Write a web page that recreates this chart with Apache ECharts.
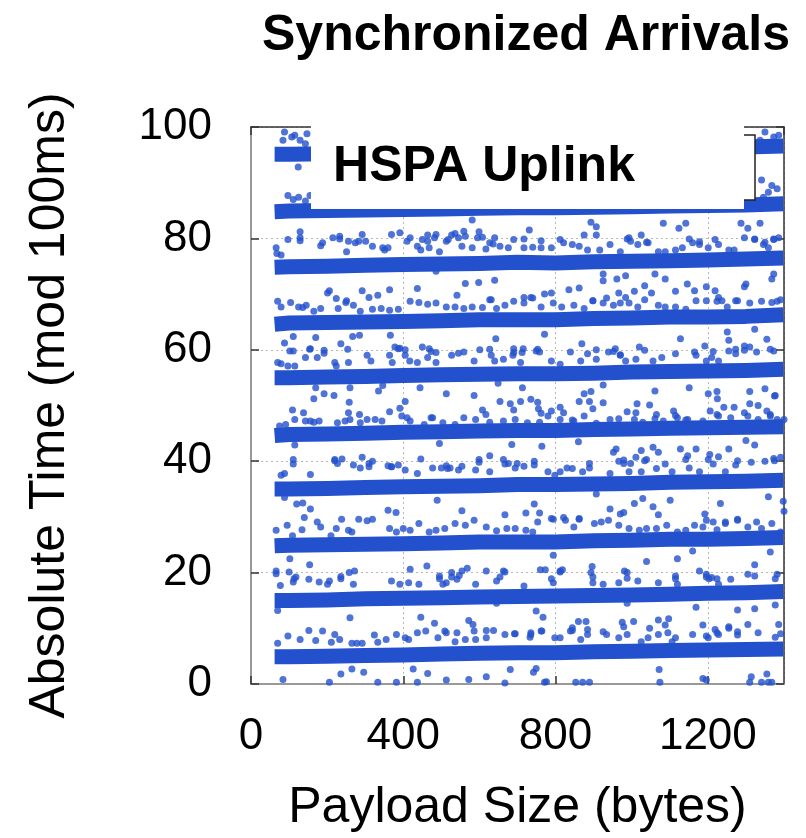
<!DOCTYPE html>
<html>
<head>
<meta charset="utf-8">
<script src="https://cdn.jsdelivr.net/npm/echarts@6/dist/echarts.min.js"></script>
<style>
  html, body { margin: 0; padding: 0; background: #fff; }
  #chart { width: 806px; height: 838px; }
</style>
</head>
<body>
<div id="chart"></div>
<script>
// x ticks / y ticks
var xTicks = [0, 400, 800, 1200];
var yTicks = [0, 20, 40, 60, 80, 100];

// centre of each dense band, read at these payload sizes
var coreX = [62, 100, 200, 300, 400, 500, 600, 700, 800, 900, 1000, 1100, 1200, 1300, 1398];
var band05 = [4.9, 4.9, 5.0, 5.1, 5.2, 5.4, 5.5, 5.6, 5.6, 5.8, 5.9, 6.0, 6.1, 6.2, 6.3];
var band15 = [15.0, 15.0, 15.1, 15.3, 15.4, 15.5, 15.6, 15.7, 15.8, 15.9, 16.0, 16.1, 16.3, 16.4, 16.6];
var band25 = [24.8, 24.9, 25.0, 25.1, 25.2, 25.3, 25.5, 25.5, 25.5, 25.7, 25.8, 26.0, 26.0, 26.1, 26.3];
var band35 = [35.0, 35.0, 35.1, 35.3, 35.4, 35.5, 35.6, 35.8, 35.8, 35.9, 36.0, 36.2, 36.3, 36.4, 36.6];
var band45 = [44.6, 44.8, 44.9, 45.0, 45.2, 45.3, 45.4, 45.5, 45.5, 45.7, 45.8, 45.9, 46.0, 46.1, 46.2];
var band55 = [55.0, 55.0, 55.1, 55.2, 55.4, 55.5, 55.6, 55.7, 55.7, 55.8, 56.0, 56.1, 56.2, 56.3, 56.5];
var band65 = [64.6, 64.8, 64.9, 65.0, 65.1, 65.2, 65.4, 65.4, 65.4, 65.6, 65.7, 65.9, 65.9, 66.0, 66.3];
var band75 = [74.8, 74.9, 75.0, 75.2, 75.3, 75.4, 75.5, 75.7, 75.6, 75.8, 75.9, 76.0, 76.1, 76.3, 76.5];
var band85 = [84.8, 84.9, 85.0, 85.1, 85.2, 85.3, 85.4, 85.5, 85.5, 85.6, 85.7, 85.8, 85.9, 86.0, 86.2];
var band95 = [95.1, 95.1, 95.2, 95.3, 95.4, 95.5, 95.6, 95.7, 95.8, 95.9, 96.0, 96.1, 96.3, 96.4, 96.6];

// scattered arrivals off the bands, [payload, time]
var stray0to20 = [
  [66,20.3],[77,17.7],[111,18.3],[113,18.9],[152,18.8],[179,18.3],[201,17.9],[206,18.5],[236,19.3],[269,17.9],
  [369,18.5],[391,17.9],[414,18.2],[441,17.9],[495,19.4],[504,17.9],[513,18.2],[527,20.0],[541,18.8],[554,20.3],
  [590,17.9],[645,18.5],[663,20.3],[717,17.6],[789,18.9],[794,18.2],[812,20.3],[893,20.0],[898,18.2],[925,17.9],
  [966,18.2],[988,20.0],[1016,18.5],[1070,18.2],[1115,19.4],[1120,17.9],[1178,20.3],[1196,19.7],[1210,19.1],[1228,17.9],
  [1260,18.8],[1305,19.7],[1323,19.4],[1382,19.7],
  [70,13.2],[645,14.5],[988,14.5],[1169,13.8],[1278,13.3],[1377,14.2],[260,11.9],[446,12.0],[482,10.9],[572,11.4],
  [583,10.7],[586,9.5],[618,9.6],[637,9.6],[692,9.0],[735,9.2],[733,8.4],[749,13.1],[767,12.0],[764,9.5],
  [839,9.5],[844,10.1],[860,11.2],[880,11.2],[884,9.8],[925,9.4],[975,11.1],[979,10.3],[1005,11.2],[1047,10.0],
  [1070,11.5],[1088,10.6],[1097,11.7],[1095,9.2],[1187,10.6],[1196,8.6],[1219,9.8],[1228,8.9],[1255,10.3],[1278,9.4],
  [1323,13.5],[1386,10.7],
  [70,7.3],[97,8.6],[129,8.0],[152,9.6],[170,7.8],[188,9.5],[211,7.5],[220,8.9],[233,8.0],[265,7.3],
  [278,7.3],[292,7.3],[324,8.8],[333,7.5],[355,8.0],[382,8.9],[405,8.3],[414,8.0],[437,9.2],[459,9.5],
  [491,8.3],[509,9.5],[513,9.2],[536,7.6],[541,9.2],[563,8.0],[590,8.0],[618,8.3],[667,8.9],[694,9.0],
  [735,8.9],[762,9.5],[798,8.3],[812,8.3],[844,9.6],[866,8.0],[884,8.9],[934,8.9],[966,8.3],[988,8.9],
  [1025,7.6],[1043,8.3],[1070,8.9],[1106,7.6],[1115,8.3],[1160,8.9],[1201,8.3],[1224,9.2],[1255,10.0],[1278,8.8],
  [1305,10.7],[1332,9.2],[1377,8.4],[1391,9.0],
  [84,0.8],[206,0.3],[236,1.8],[265,2.7],[296,2.1],[333,0.3],[382,0.3],[426,2.7],[437,0.3],[464,1.9],
  [513,0.7],[572,0.8],[618,1.3],[667,0.2],[681,2.6],[742,2.1],[749,2.8],[771,0.3],[776,0.4],[853,0.3],
  [871,0.3],[889,0.3],[1074,0.3],[1072,2.6],[1187,1.0],[1196,0.7],[1314,1.3],[1310,0.3],[1341,0.3],[1355,1.8],
  [1359,0.3],[1368,0.3]
];
var stray20to40 = [
  [111,40.3],[220,40.3],[227,39.6],[269,39.3],[287,38.8],[310,39.6],[319,40.0],[360,39.2],[369,39.0],[387,39.3],
  [405,38.4],[437,37.8],[477,38.8],[513,39.2],[545,38.4],[590,38.4],[599,40.3],[627,38.1],[663,40.3],[676,39.6],
  [699,39.6],[744,40.0],[780,38.1],[798,37.5],[812,38.1],[844,38.7],[871,38.1],[889,39.6],[943,37.8],[966,40.0],
  [979,39.6],[993,38.1],[1025,38.1],[1039,40.3],[1065,38.7],[1106,38.1],[1142,40.3],[1178,38.1],[1201,40.3],[1214,39.5],
  [1246,38.1],[1273,39.3],[1314,39.8],[1350,40.0],[1373,40.5],[79,37.5],[88,37.8],[156,37.6],
  [88,33.5],[120,32.3],[136,32.5],[489,33.0],[744,32.3],[907,34.1],[1007,32.4],[1029,33.3],[1056,31.8],[1101,33.0],
  [1233,32.4],[1359,33.6],[1398,32.8],
  [156,31.4],[360,31.2],[381,30.8],[554,31.1],[667,30.4],[722,30.7],[758,30.7],[794,29.6],[821,29.9],[862,29.6],
  [943,31.4],[970,30.5],[979,30.8],[1070,30.4],[1192,30.5],[1196,29.4],[1214,29.1],[1246,29.1],[1278,29.6],[1328,29.1],
  [1400,31.0],
  [66,27.6],[95,28.5],[109,26.6],[134,27.7],[140,29.9],[174,29.1],[183,28.2],[210,26.6],[224,27.9],[238,29.6],
  [256,27.6],[265,27.3],[283,29.6],[305,29.3],[319,29.6],[364,27.9],[382,27.3],[400,27.9],[418,27.6],[441,28.8],
  [468,27.3],[486,27.6],[509,27.9],[536,28.8],[563,28.5],[586,29.4],[618,28.2],[645,27.5],[672,27.9],[694,27.9],
  [722,27.6],[740,27.3],[753,29.1],[789,29.7],[826,29.4],[848,28.2],[862,29.7],[902,28.8],[920,29.1],[939,29.4],
  [966,28.5],[993,27.9],[1020,27.6],[1039,27.9],[1065,27.9],[1092,28.5],[1120,27.3],[1142,27.6],[1165,28.5],[1187,28.2],
  [1224,27.7],[1246,28.8],[1278,29.4],[1305,28.2],[1341,27.9],[1368,28.8],[1391,27.3],
  [102,22.5],[154,21.4],[66,19.8],[100,20.1],[118,19.2],[236,18.9],[258,20.0],[272,20.3],[418,20.6],[462,21.2],
  [495,18.9],[527,19.2],[547,19.5],[568,20.8],[618,20.3],[654,19.2],[667,20.1],[760,20.5],[773,20.5],[794,23.1],
  [812,20.1],[818,20.5],[896,21.1],[898,19.2],[981,20.3],[988,19.0],[1039,22.0],[1120,22.5],[1115,18.9],[1160,23.9],
  [1196,19.2],[1203,18.9],[1224,18.9],[1323,21.4],[1364,23.7],[1377,18.9]
];
var stray40to60 = [
  [102,59.8],[111,59.8],[143,58.6],[156,60.2],[192,59.9],[70,57.7],[79,57.5],[97,57.1],[115,57.1],[174,58.6],
  [220,57.7],[224,57.1],[256,57.7],[305,59.0],[315,58.0],[364,59.0],[371,57.7],[387,60.2],[405,59.0],[417,58.0],
  [437,57.7],[464,58.6],[468,60.2],[486,57.7],[527,59.0],[545,59.4],[559,59.6],[586,58.0],[631,59.0],[640,58.0],
  [663,58.3],[688,59.0],[690,60.2],[708,57.7],[715,60.2],[749,59.8],[758,59.6],[789,58.0],[812,57.4],[839,59.6],
  [866,58.0],[884,59.3],[907,58.3],[939,59.6],[957,60.2],[970,59.0],[984,58.0],[1011,58.3],[1034,59.9],[1056,58.0],
  [1079,58.6],[1115,59.3],[1165,59.6],[1169,59.0],[1196,58.0],[1210,58.6],[1228,58.0],[1255,59.8],[1273,59.3],[1296,59.9],
  [1328,59.6],[1373,59.8],
  [170,53.2],[165,51.2],[192,52.1],[218,51.8],[260,53.2],[335,52.6],[346,53.6],[444,53.2],[513,52.1],[586,51.8],
  [649,54.0],[713,53.2],[875,52.1],[893,52.5],[925,53.7],[1061,52.6],[1151,53.2],[1201,52.1],[1224,52.5],[1225,51.2],
  [1310,52.5],[1350,53.0],[1375,51.7],
  [258,50.6],[256,48.7],[285,48.4],[364,48.9],[391,49.5],[405,50.7],[396,48.1],[410,47.8],[473,47.8],[608,49.2],
  [617,48.4],[654,50.7],[681,50.3],[690,49.2],[708,50.7],[735,51.1],[753,50.6],[755,49.4],[762,48.6],[789,49.0],
  [812,49.7],[821,48.7],[844,47.4],[862,50.7],[889,50.7],[898,49.4],[925,50.5],[966,47.6],[988,48.9],[1011,48.7],
  [1014,50.3],[1047,50.1],[1061,47.6],[1110,49.0],[1115,48.2],[1142,47.4],[1206,49.0],[1224,48.4],[1242,49.7],[1269,49.7],
  [1296,48.7],[1310,50.3],[1332,50.0],[1355,49.0],[1364,48.4],[1377,51.8],
  [75,46.3],[91,46.6],[109,49.2],[115,47.5],[138,48.7],[143,47.2],[156,47.2],[165,47.0],[179,47.2],[227,46.9],
  [247,47.2],[260,47.5],[287,46.9],[305,47.5],[326,47.5],[344,47.2],[418,47.2],[455,46.6],[477,47.8],[504,46.9],
  [536,46.6],[559,47.8],[590,47.5],[627,47.0],[663,47.2],[694,47.5],[726,46.9],[758,47.0],[780,48.1],[812,47.5],
  [848,47.2],[875,48.1],[907,46.8],[943,47.5],[1007,47.5],[1029,47.0],[1065,48.4],[1083,47.2],[1120,47.8],[1147,47.5],
  [1187,47.2],[1228,48.1],[1260,47.8],[1305,48.1],[1332,47.5],[1364,48.1],[1382,47.5],[1400,47.5],
  [115,42.9],[111,39.5],[220,40.1],[239,40.4],[292,40.7],[310,39.0],[369,39.0],[446,40.4],[495,43.2],[500,38.8],
  [516,38.7],[523,38.8],[554,39.1],[599,39.8],[627,41.0],[667,39.5],[685,43.0],[694,38.8],[717,39.1],[744,39.3],
  [764,42.7],[830,38.8],[860,43.5],[889,38.8],[952,41.6],[959,42.2],[979,40.2],[997,39.6],[1011,40.7],[1025,41.9],
  [1034,40.1],[1056,42.5],[1070,41.6],[1088,39.5],[1128,42.2],[1147,41.0],[1151,38.8],[1169,42.2],[1205,41.2],[1228,40.8],
  [1255,42.2],[1278,40.1],[1300,43.7],[1323,42.9],[1375,40.1],[1391,40.7]
];
var stray60to80 = [
  [66,78.3],[68,77.3],[79,77.0],[97,79.8],[129,80.1],[183,78.7],[188,79.2],[215,80.1],[233,80.4],[251,77.6],
  [256,79.5],[274,79.2],[283,79.5],[301,79.5],[319,78.6],[346,78.3],[351,77.9],[360,78.3],[410,79.5],[418,80.1],
  [437,78.6],[446,77.9],[464,79.5],[468,78.3],[482,80.1],[495,77.6],[513,79.5],[518,79.8],[545,80.1],[554,78.6],
  [581,78.3],[595,80.1],[617,78.1],[627,79.2],[640,80.1],[654,78.6],[676,78.3],[690,79.8],[717,78.3],[740,78.4],
  [762,78.3],[789,78.3],[812,79.8],[821,79.2],[844,78.9],[862,78.6],[884,77.9],[916,77.9],[943,78.9],[970,77.6],
  [993,80.1],[997,79.5],[1016,78.9],[1043,79.2],[1070,77.6],[1088,77.6],[1115,77.9],[1133,78.3],[1160,79.2],[1178,78.9],
  [1201,78.3],[1219,79.8],[1228,78.9],[1255,77.9],[1269,77.9],[1296,80.1],[1323,79.8],[1346,78.9],[1359,78.3],[1373,79.8],
  [1386,80.1],
  [486,74.1],[925,73.6],[925,72.4],[961,72.7],[984,73.3],[1061,73.6],[1088,72.7],[1373,73.6],[1368,72.7],[640,72.5],
  [563,71.9],[598,72.1],[437,71.0],[206,70.6],[201,70.2],[292,70.6],[310,69.4],[333,69.8],[364,70.8],[224,69.2],
  [251,68.8],[541,69.8],[631,69.0],[717,69.4],[735,69.4],[771,70.0],[789,70.2],[835,70.8],[862,71.1],[898,68.8],
  [934,69.3],[966,70.2],[984,69.4],[1007,70.5],[1034,71.5],[1052,70.2],[1115,70.5],[1146,71.8],[1165,70.6],[1196,71.3],
  [1219,70.6],[1228,69.4],[1237,68.8],[1273,68.8],[1296,71.3],[1300,71.8],[1382,68.7],
  [70,68.7],[79,67.7],[104,68.5],[125,67.7],[136,67.6],[145,68.0],[165,66.9],[183,67.4],[229,67.4],[249,68.5],
  [269,68.0],[287,66.9],[319,67.3],[342,67.4],[364,67.1],[387,67.3],[418,68.7],[441,68.5],[464,68.2],[486,68.4],
  [513,67.7],[536,67.7],[559,67.4],[581,67.7],[608,67.6],[627,69.0],[645,67.4],[667,68.0],[690,68.7],[717,68.4],
  [740,69.3],[762,67.7],[794,68.4],[816,67.7],[848,68.0],[875,67.4],[898,68.8],[925,68.4],[952,68.0],[970,68.4],
  [993,68.4],[1016,67.7],[1034,69.0],[1070,68.0],[1088,67.7],[1115,67.7],[1142,67.3],[1169,68.8],[1196,68.8],[1224,68.7],
  [1251,67.7],[1278,68.8],[1310,68.4],[1341,68.7],[1368,68.5],[1391,69.0],
  [88,61.2],[111,62.4],[170,62.2],[236,61.1],[267,62.4],[285,62.6],[254,60.1],[154,60.1],[192,59.4],[366,62.6],
  [378,60.5],[391,60.3],[405,60.0],[450,60.5],[473,59.7],[486,59.5],[601,60.0],[627,60.1],[643,62.0],[690,59.5],
  [712,59.5],[753,60.1],[771,62.8],[869,61.1],[907,60.0],[952,59.7],[970,59.1],[1020,60.5],[1128,62.0],[1192,60.7],
  [1214,59.7],[1251,63.2],[1255,61.7],[1273,60.1],[1296,60.7],[1310,60.5],[1323,63.7],[1355,61.9],[1364,60.1]
];
var stray80to100 = [
  [88,99.1],[107,98.2],[129,97.6],[143,97.0],[84,97.6],[115,98.5],[147,98.8],[124,92.8],
  [1350,99.1],[1373,98.2],[1386,98.5],[1337,97.6],
  [97,87.7],[111,87.0],[125,87.4],[143,86.7],[155,87.7],
  [1341,90.5],[1368,89.5],[1382,88.9],[1359,88.3],[1332,86.1],[1346,87.4],
  [129,81.2],[129,79.6],[233,79.9],[292,80.7],[369,80.7],[391,81.0],[450,79.8],[464,80.6],[486,80.7],[527,80.6],
  [536,80.9],[559,81.3],[563,80.4],[581,83.3],[599,81.2],[608,80.2],[636,79.0],[717,79.9],[731,81.5],[762,79.6],
  [893,82.9],[907,82.1],[907,80.6],[875,80.6],[988,79.9],[1025,80.6],[1039,79.3],[1083,82.7],[1124,81.8],[1142,82.7],
  [1151,79.9],[1178,79.4],[1287,82.7],[1305,81.8],[1323,79.9],[1337,82.7],[1350,79.3],[1373,79.9]
];

var blue = '#2350cc';
var font = '"Liberation Sans", Arial, sans-serif';

var chart = echarts.init(document.getElementById('chart'));

var bands = [band05, band15, band25, band35, band45, band55, band65, band75, band85, band95];
var strays = [stray0to20, stray20to40, stray40to60, stray60to80, stray80to100];

var series = [];
bands.forEach(function (b) {
  series.push({
    type: 'line',
    data: coreX.map(function (x, i) { return [x, b[i]]; }),
    symbol: 'none',
    silent: true,
    lineStyle: { color: blue, width: 15, cap: 'butt', join: 'round' },
    z: 2
  });
});
strays.forEach(function (s) {
  series.push({
    type: 'scatter',
    data: s,
    symbolSize: 7,
    itemStyle: { color: blue },
    silent: true,
    z: 3
  });
});

var option = {
  backgroundColor: '#fff',
  animation: false,
  title: {
    text: 'Synchronized Arrivals',
    left: 257,
    top: 6,
    textStyle: { fontFamily: font, fontSize: 50, fontWeight: 'bold', color: '#000' }
  },
  grid: { left: 251, right: 22, top: 127, bottom: 154 },
  xAxis: [
    {
      type: 'value', min: 0, max: 1400, interval: 400,
      name: 'Payload Size (bytes)', nameLocation: 'middle', nameGap: 99,
      nameTextStyle: { fontFamily: font, fontSize: 50, color: '#000' },
      axisLine: { show: true, onZero: false, lineStyle: { color: '#999', width: 2 } },
      axisTick: { show: true, inside: true, length: 8, lineStyle: { color: '#333', width: 1.5 } },
      axisLabel: {
        fontFamily: font, fontSize: 44, color: '#000', margin: 31, showMaxLabel: false,
        formatter: function (v) { return String(v); }
      },
      splitLine: { show: true, lineStyle: { color: '#b8b8b8', width: 1, type: [2, 3] } }
    },
    {
      type: 'value', min: 0, max: 1400, interval: 400, position: 'top',
      axisLine: { show: true, onZero: false, lineStyle: { color: '#333', width: 1.5 } },
      axisTick: { show: true, inside: true, length: 8, lineStyle: { color: '#333', width: 1.5 } },
      axisLabel: { show: false },
      splitLine: { show: false }
    }
  ],
  yAxis: [
    {
      type: 'value', min: 0, max: 100, interval: 20,
      name: 'Absolute Time (mod 100ms)', nameLocation: 'middle', nameGap: 176,
      nameTextStyle: { fontFamily: font, fontSize: 50, color: '#000' },
      axisLine: { show: true, onZero: false, lineStyle: { color: '#999', width: 2 } },
      axisTick: { show: true, inside: true, length: 8, lineStyle: { color: '#333', width: 1.5 } },
      axisLabel: { fontFamily: font, fontSize: 44, color: '#000', margin: 39 },
      splitLine: { show: true, lineStyle: { color: '#b8b8b8', width: 1, type: [2, 3] } }
    },
    {
      type: 'value', min: 0, max: 100, interval: 20, position: 'right',
      axisLine: { show: true, onZero: false, lineStyle: { color: '#333', width: 1.5 } },
      axisTick: { show: true, inside: true, length: 8, lineStyle: { color: '#333', width: 1.5 } },
      axisLabel: { show: false },
      splitLine: { show: false }
    }
  ],
  graphic: [
    {
      type: 'rect', z: 100,
      shape: { x: 600, y: 135, width: 155, height: 65 },
      style: { fill: '#fff', stroke: '#222', lineWidth: 1.5 }
    },
    {
      type: 'rect', z: 101,
      shape: { x: 311, y: 126, width: 433, height: 83 },
      style: { fill: '#fff' }
    },
    {
      type: 'text', z: 102, x: 484, y: 167,
      style: {
        text: 'HSPA Uplink', fill: '#000',
        font: 'bold 50px ' + font,
        align: 'center', verticalAlign: 'middle'
      }
    }
  ],
  series: series
};

chart.setOption(option);
</script>
</body>
</html>
